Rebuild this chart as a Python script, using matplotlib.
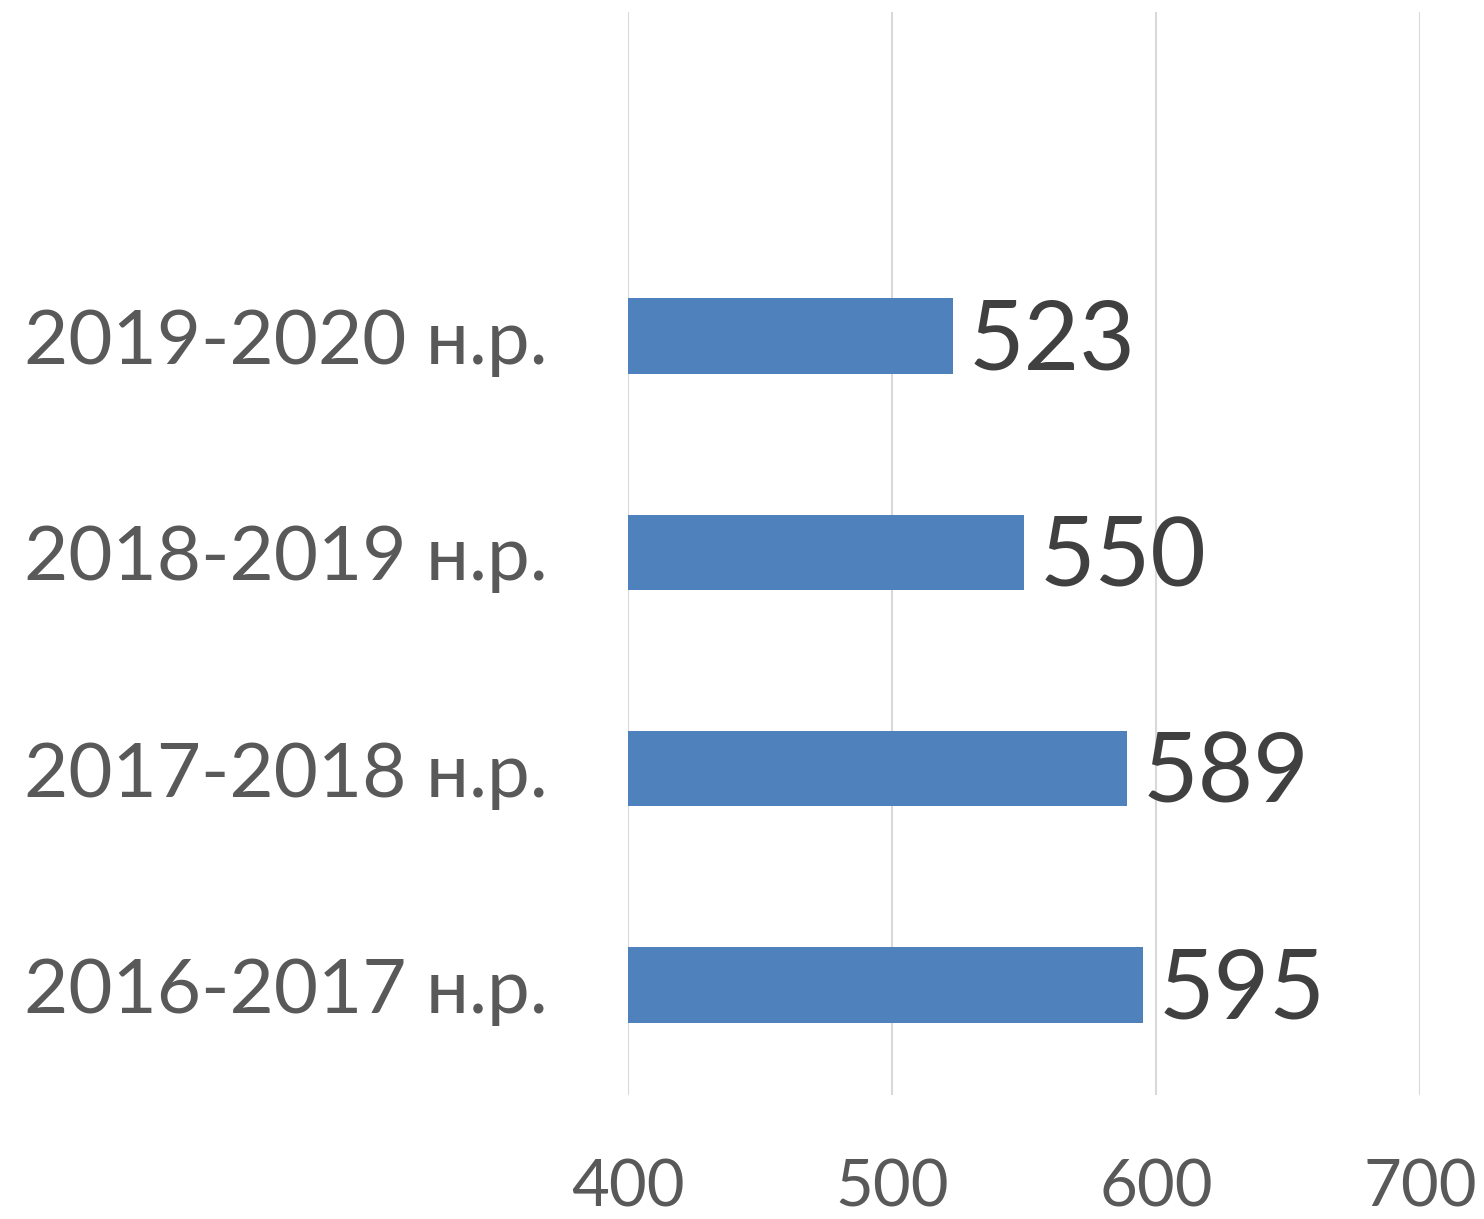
import matplotlib.pyplot as plt

plt.rcParams['font.family'] = ['Lato', 'DejaVu Sans']

# дані
years = ['2016-2017 н.р.', '2017-2018 н.р.', '2018-2019 н.р.', '2019-2020 н.р.']
values = [595, 589, 550, 523]
x_ticks = [400, 500, 600, 700]

fig = plt.figure(figsize=(14.84, 12.19), dpi=100)
ax = fig.add_axes([628 / 1484, 1 - 1095 / 1219, 792 / 1484, 1083 / 1219])

pos = range(len(years))
ax.barh(pos, values, height=0.35, color='#4f81bd', zorder=2)

for p, v in zip(pos, values):
    ax.text(v + 6, p - 0.03, str(v), va='center', ha='left', fontsize=69, color='#404040')

ax.set_xlim(400, 700)
ax.set_ylim(-0.51, 4.5)
ax.set_xticks(x_ticks)
ax.set_yticks(list(pos))
ax.set_yticklabels(years)

ax.grid(axis='x', color='#d9d9d9', linewidth=1.5, zorder=0)
for s in ax.spines.values():
    s.set_visible(False)

ax.tick_params(axis='x', length=0, pad=46, labelsize=47, labelcolor='#595959')
ax.tick_params(axis='y', length=0, pad=58, labelsize=55, labelcolor='#595959')
for t in ax.get_yticklabels():
    t.set_va('center_baseline')

fig.savefig('out.png', dpi=100)
